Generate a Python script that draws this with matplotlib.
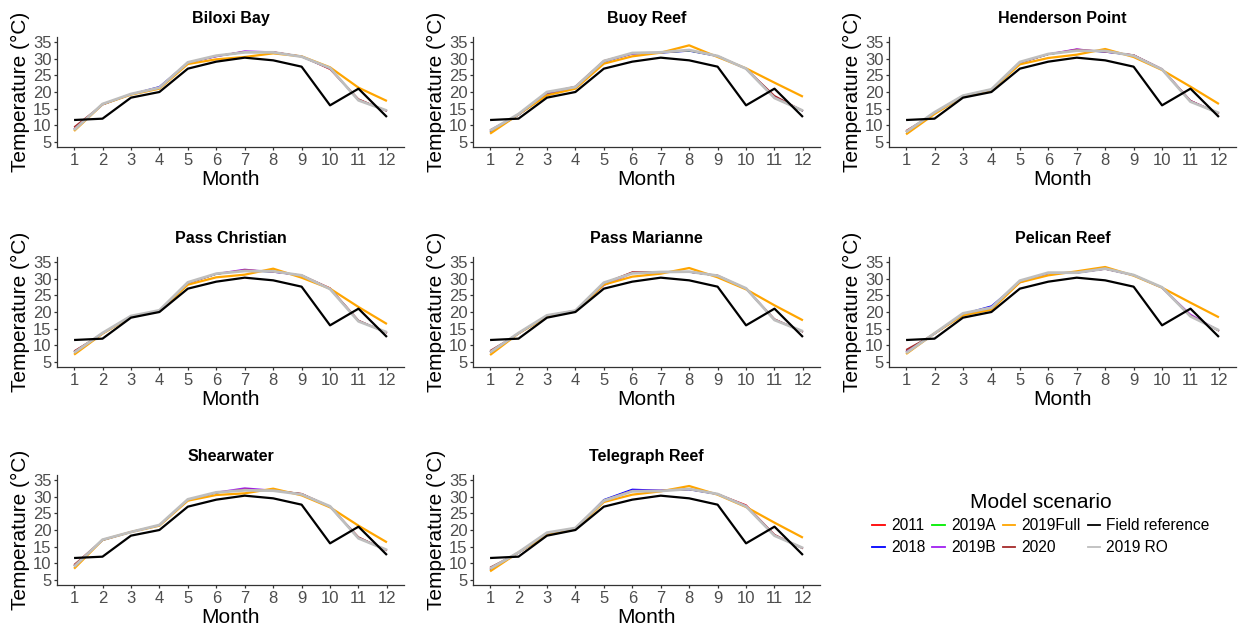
import matplotlib
matplotlib.use("Agg")
import matplotlib.pyplot as plt
from matplotlib.lines import Line2D

plt.rcParams["font.family"] = ["Liberation Sans", "DejaVu Sans"]

MONTHS = list(range(1, 13))
SITES = ["Biloxi Bay", "Buoy Reef", "Henderson Point",
         "Pass Christian", "Pass Marianne", "Pelican Reef",
         "Shearwater", "Telegraph Reef"]

# Monthly field temperatures (same record used at every site)
FIELD = [11.6, 12.0, 18.3, 20.0, 27.0, 29.1, 30.3, 29.5, 27.6, 16.0, 21.0, 12.5]

# Modelled monthly temperatures, one row per site (order of SITES)
T_2011 = [
    [9.0, 16.3, 19.3, 21.2, 28.7, 30.8, 32.1, 32.0, 30.7, 26.8, 17.8, 14.3],
    [8.2, 13.2, 19.3, 21.3, 29.2, 31.5, 31.8, 32.4, 30.8, 27.0, 18.7, 14.3],
    [8.2, 13.7, 18.8, 20.7, 28.8, 31.3, 32.8, 32.1, 31.1, 26.9, 17.4, 13.6],
    [8.1, 13.6, 18.7, 20.4, 28.7, 31.4, 32.6, 32.1, 31.0, 27.2, 17.4, 13.8],
    [8.1, 13.6, 18.9, 20.4, 28.6, 31.9, 32.0, 32.0, 30.9, 27.0, 17.8, 14.1],
    [8.3, 13.5, 19.2, 21.2, 29.1, 31.6, 31.8, 32.9, 31.1, 27.3, 19.0, 14.4],
    [9.4, 17.0, 19.4, 21.4, 29.0, 31.2, 32.2, 31.9, 30.9, 27.0, 17.8, 13.9],
    [8.3, 13.2, 18.9, 20.5, 28.9, 31.8, 31.8, 32.2, 30.8, 27.5, 18.6, 14.5],
]
T_2018 = [
    [8.8, 16.2, 19.3, 21.6, 28.8, 30.7, 32.0, 31.9, 30.6, 27.0, 17.6, 14.3],
    [8.0, 13.1, 19.5, 21.2, 29.0, 31.6, 31.7, 32.3, 30.7, 27.0, 18.4, 14.3],
    [8.0, 13.7, 18.8, 20.7, 28.8, 31.3, 32.6, 32.0, 31.0, 26.8, 17.3, 13.6],
    [7.9, 13.5, 18.7, 20.4, 28.7, 31.4, 32.5, 32.0, 31.0, 27.0, 17.3, 13.8],
    [7.9, 13.5, 18.8, 20.3, 28.5, 31.7, 31.9, 32.0, 30.9, 27.0, 17.7, 14.1],
    [8.0, 13.5, 19.4, 21.8, 29.0, 31.6, 31.7, 32.9, 31.0, 27.3, 18.9, 14.4],
    [9.2, 16.9, 19.4, 21.4, 29.0, 31.2, 32.1, 31.9, 30.8, 27.0, 17.7, 13.9],
    [8.1, 13.1, 18.8, 20.4, 29.1, 32.2, 31.9, 32.1, 30.7, 27.2, 18.4, 14.5],
]
T_2019A = [
    [8.7, 16.3, 19.3, 21.3, 28.8, 30.8, 31.9, 31.9, 30.6, 27.1, 17.6, 14.4],
    [8.1, 13.2, 19.6, 21.3, 29.1, 31.5, 31.8, 32.4, 30.8, 27.0, 18.3, 14.3],
    [8.0, 13.8, 18.9, 20.8, 28.9, 31.3, 32.5, 32.1, 31.0, 26.8, 17.2, 13.6],
    [7.9, 13.6, 18.7, 20.4, 28.8, 31.4, 32.4, 32.1, 31.0, 26.9, 17.3, 13.8],
    [8.0, 13.6, 18.9, 20.4, 28.6, 31.7, 32.0, 32.0, 30.9, 27.0, 17.7, 14.1],
    [8.1, 13.5, 19.5, 21.4, 29.2, 31.7, 31.8, 33.0, 31.1, 27.4, 18.8, 14.4],
    [9.2, 17.0, 19.4, 21.4, 29.1, 31.2, 32.0, 31.9, 30.8, 27.0, 17.6, 13.9],
    [8.1, 13.2, 18.9, 20.5, 28.9, 31.8, 31.8, 32.2, 30.8, 27.2, 18.4, 14.5],
]
T_2019B = [
    [8.8, 16.2, 19.4, 21.4, 28.9, 30.6, 32.3, 32.0, 30.6, 27.0, 17.7, 14.3],
    [8.2, 13.2, 19.6, 21.3, 29.1, 31.4, 31.8, 32.5, 30.8, 27.0, 18.6, 14.3],
    [8.1, 13.7, 18.8, 20.7, 28.8, 31.4, 32.9, 32.0, 31.1, 26.9, 17.4, 13.6],
    [8.0, 13.6, 18.7, 20.4, 28.7, 31.5, 32.8, 32.0, 31.0, 27.0, 17.4, 13.8],
    [8.0, 13.6, 18.8, 20.4, 28.0, 31.6, 31.9, 32.0, 30.9, 27.0, 17.8, 14.1],
    [8.1, 13.5, 19.4, 21.5, 28.8, 31.6, 31.8, 33.0, 31.0, 27.3, 19.3, 14.4],
    [9.3, 17.0, 19.4, 21.4, 29.0, 31.3, 32.6, 31.9, 30.8, 27.0, 17.7, 13.9],
    [8.2, 13.2, 18.9, 20.5, 28.9, 31.9, 31.9, 32.2, 30.8, 27.3, 18.5, 14.5],
]
T_2019FULL = [
    [8.3, 16.3, 19.2, 21.0, 28.4, 29.8, 30.5, 31.6, 30.7, 27.4, 21.3, 17.3],
    [7.5, 13.3, 19.0, 21.0, 28.5, 30.7, 31.8, 34.0, 30.5, 27.1, 22.8, 18.6],
    [7.3, 13.4, 18.7, 20.6, 28.3, 30.2, 31.2, 32.9, 30.5, 26.6, 21.6, 16.4],
    [7.2, 13.5, 18.6, 20.2, 28.2, 30.4, 31.2, 33.0, 30.3, 27.0, 21.5, 16.4],
    [7.1, 13.6, 18.6, 20.2, 28.2, 30.6, 31.5, 33.2, 30.4, 26.8, 22.0, 17.5],
    [7.4, 13.6, 19.0, 20.7, 28.9, 31.0, 32.2, 33.5, 30.9, 27.3, 22.8, 18.4],
    [8.4, 17.0, 19.4, 21.3, 28.8, 30.5, 31.0, 32.4, 30.4, 26.8, 21.3, 16.3],
    [7.6, 13.3, 18.5, 20.2, 28.4, 30.6, 31.6, 33.2, 30.6, 26.9, 22.2, 17.7],
]
T_2020 = [
    [9.5, 16.2, 19.3, 21.2, 28.7, 30.8, 32.1, 32.0, 30.7, 26.9, 17.9, 14.2],
    [8.6, 13.2, 19.7, 21.7, 29.4, 31.6, 31.8, 32.5, 30.8, 27.0, 18.9, 14.3],
    [8.4, 13.6, 18.8, 20.7, 28.7, 31.3, 32.7, 32.1, 31.1, 26.8, 17.4, 13.5],
    [8.3, 13.5, 18.7, 20.4, 28.6, 31.4, 32.6, 32.1, 31.0, 27.1, 17.5, 13.7],
    [8.4, 13.5, 18.9, 20.5, 28.6, 32.0, 32.0, 32.0, 31.0, 27.0, 17.9, 14.0],
    [8.7, 13.4, 19.3, 21.3, 29.1, 31.7, 31.9, 32.9, 31.1, 27.3, 19.0, 14.3],
    [9.6, 17.0, 19.4, 21.4, 29.0, 31.2, 32.2, 31.9, 30.9, 27.0, 17.9, 13.8],
    [8.8, 13.2, 18.9, 20.6, 28.8, 31.8, 31.8, 32.2, 30.8, 27.3, 18.6, 14.4],
]
T_2019RO = [
    [8.6, 16.4, 19.4, 21.3, 28.9, 30.9, 31.9, 31.9, 30.6, 27.2, 17.5, 14.4],
    [8.4, 13.4, 20.0, 21.5, 29.3, 31.7, 31.9, 32.6, 30.8, 27.0, 18.2, 14.4],
    [8.0, 13.9, 18.9, 20.8, 29.0, 31.4, 32.4, 32.3, 30.9, 26.8, 17.1, 13.7],
    [7.8, 13.7, 18.8, 20.5, 28.9, 31.5, 32.3, 32.2, 31.0, 26.9, 17.2, 13.9],
    [7.9, 13.7, 19.0, 20.4, 28.8, 31.6, 32.0, 32.1, 30.9, 27.1, 17.6, 14.2],
    [7.7, 13.6, 19.6, 21.3, 29.4, 31.8, 31.8, 33.0, 31.1, 27.4, 18.7, 14.5],
    [9.0, 17.1, 19.4, 21.5, 29.2, 31.3, 31.9, 31.8, 30.7, 27.1, 17.5, 14.0],
    [8.4, 13.3, 19.2, 20.6, 28.8, 31.6, 31.7, 32.3, 30.8, 27.1, 18.3, 14.6],
]

LEGEND_LABELS = ["2011", "2018", "2019A", "2019B", "2019Full", "2020",
                 "Field reference", "2019 RO"]
COLORS = {"2011": "#FF0000", "2018": "#0000FF", "2019A": "#00EE00",
          "2019B": "#A020F0", "2019Full": "#FFA500", "2020": "#A52A2A",
          "Field reference": "#000000", "2019 RO": "#BEBEBE"}

# draw order within each panel, with line widths
LAYERS = [("2011", T_2011, 1.0), ("2018", T_2018, 1.0), ("2019A", T_2019A, 1.0),
          ("2019B", T_2019B, 1.0), ("2020", T_2020, 1.0),
          ("2019Full", T_2019FULL, 1.6), ("2019 RO", T_2019RO, 2.0)]

W, H = 1238, 628
fig = plt.figure(figsize=(W / 100, H / 100), dpi=100)

col_left = [57, 473, 889]
ax_w = 347
row_bottom = [147, 367, 585]
ax_h = 110

AX_COLOR = "#333333"
TICK_COLOR = "#4D4D4D"

for i, site in enumerate(SITES):
    r, c = divmod(i, 3)
    ax = fig.add_axes([col_left[c] / W, 1 - row_bottom[r] / H, ax_w / W, ax_h / H])
    for name, table, lw in LAYERS:
        ax.plot(MONTHS, table[i], color=COLORS[name], lw=lw,
                solid_joinstyle="round", solid_capstyle="butt")
    ax.plot(MONTHS, FIELD, color=COLORS["Field reference"], lw=1.6,
            solid_joinstyle="round", solid_capstyle="butt")

    ax.set_xlim(0.4, 12.6)
    ax.set_ylim(3.5, 36.5)
    ax.set_xticks(MONTHS)
    ax.set_yticks([5, 10, 15, 20, 25, 30, 35])
    for s in ("top", "right"):
        ax.spines[s].set_visible(False)
    for s in ("left", "bottom"):
        ax.spines[s].set_color(AX_COLOR)
        ax.spines[s].set_linewidth(0.9)
    ax.tick_params(axis="both", length=2.5, width=0.9, color=AX_COLOR,
                   labelcolor=TICK_COLOR, labelsize=12, pad=1.5)
    ax.set_title(site, fontsize=11.5, fontweight="bold", pad=10)
    ax.set_xlabel("Month", fontsize=15, labelpad=1.5)
    ax.set_ylabel("Temperature (°C)", fontsize=15, labelpad=2)

handles = [Line2D([], [], color=COLORS[n], lw=1.3) for n in LEGEND_LABELS]
leg = fig.legend(handles, LEGEND_LABELS, loc="center",
                 bbox_to_anchor=(1041 / W, 1 - 524 / H), ncol=4,
                 frameon=False, fontsize=11.2, title="Model scenario",
                 title_fontsize=15, handlelength=0.8, handletextpad=0.4,
                 columnspacing=0.45, labelspacing=0.45)

fig.savefig("out.png", dpi=100)
